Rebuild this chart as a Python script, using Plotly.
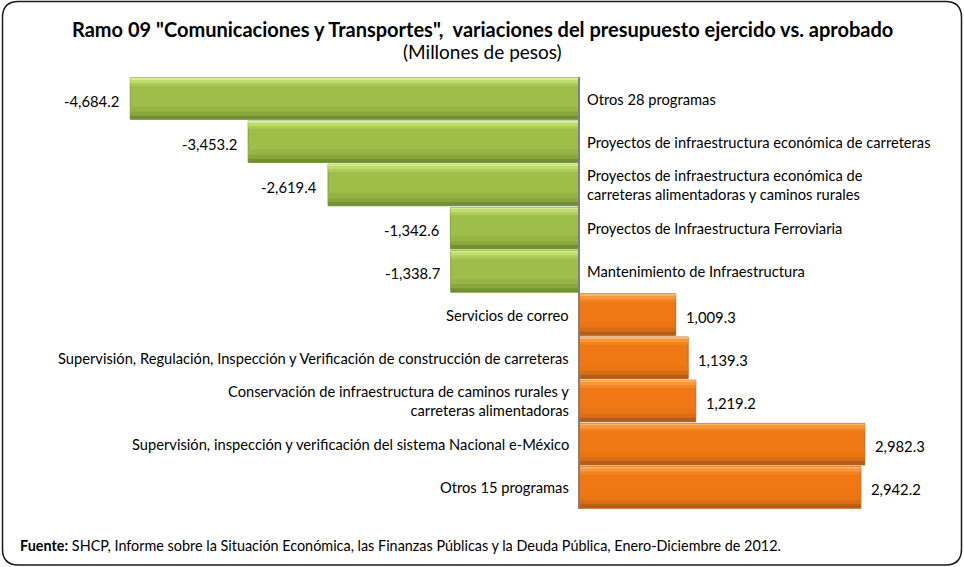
import plotly.graph_objects as go

categories = [
    "Otros 28 programas",
    "Proyectos de infraestructura económica de carreteras",
    "Proyectos de infraestructura económica de<br>carreteras alimentadoras y caminos rurales",
    "Proyectos de Infraestructura Ferroviaria",
    "Mantenimiento de Infraestructura",
    "Servicios de correo",
    "Supervisión, Regulación, Inspección y Verificación de construcción de carreteras",
    "Conservación de infraestructura de caminos rurales y<br>carreteras alimentadoras",
    "Supervisión, inspección y verificación del sistema Nacional e-México",
    "Otros 15 programas",
]
values = [-4684.2, -3453.2, -2619.4, -1342.6, -1338.7, 1009.3, 1139.3, 1219.2, 2982.3, 2942.2]
value_labels = ["-4,684.2", "-3,453.2", "-2,619.4", "-1,342.6", "-1,338.7",
                "1,009.3", "1,139.3", "1,219.2", "2,982.3", "2,942.2"]

FONT = "Lato, 'Open Sans', sans-serif"
# bevel layers: (offset, width, green, orange) from top edge of each bar down
BEVEL = [
    (-0.48, 0.05, "#d9ec95", "#fbb466"),
    (-0.43, 0.07, "#bfdc6e", "#f8983e"),
    (-0.36, 0.06, "#abcc59", "#f3841f"),
    (0.18, 0.12, "#94b544", "#e87412"),
    (0.30, 0.09, "#87a73d", "#d96c14"),
    (0.39, 0.09, "#728f36", "#b35d1a"),
]

def colors(green, orange):
    return [green if v < 0 else orange for v in values]

fig = go.Figure()
fig.add_trace(go.Bar(x=values, y=categories, orientation="h", width=0.96,
                     marker={"color": colors("#9dbf4a", "#f07814"),
                             "line": {"color": colors("#819f3b", "#c8651a"), "width": 1}},
                     hoverinfo="skip", showlegend=False))
for off, wid, g, o in BEVEL:
    fig.add_trace(go.Bar(x=values, y=categories, orientation="h", width=wid, offset=off,
                         marker={"color": colors(g, o), "line": {"width": 0}},
                         hoverinfo="skip", showlegend=False))

for cat, val, lab in zip(categories, values, value_labels):
    neg = val < 0
    # category label sits on the other side of the zero line
    fig.add_annotation(x=0, y=cat, text=cat, showarrow=False, yanchor="middle",
                       xanchor="left" if neg else "right", align="left" if neg else "right",
                       xshift=6 if neg else -8, font={"family": FONT, "size": 14.7, "color": "#000000"})
    fig.add_annotation(x=val, y=cat, text=lab, showarrow=False, yanchor="middle",
                       xanchor="right" if neg else "left", xshift=-9 if neg else 8, yshift=-2,
                       font={"family": FONT, "size": 14.8, "color": "#000000"})

fig.add_vline(x=0, line_color="#808080", line_width=2)

fig.add_annotation(x=0.5, y=1 - 29 / 567, xref="paper", yref="paper", showarrow=False,
                   xanchor="center", yanchor="middle",
                   text="<b>Ramo 09 \"Comunicaciones y Transportes\",  variaciones del presupuesto ejercido vs. aprobado</b>",
                   font={"family": FONT, "size": 20, "color": "#000000"})
fig.add_annotation(x=0.5, y=1 - 51 / 567, xref="paper", yref="paper", showarrow=False,
                   xanchor="center", yanchor="middle",
                   text="(Millones de pesos)", font={"family": FONT, "size": 19, "color": "#000000"})
fig.add_annotation(x=18 / 964, y=1 - 545 / 567, xref="paper", yref="paper", showarrow=False,
                   xanchor="left", yanchor="middle",
                   text="<b>Fuente:</b> SHCP, Informe sobre la Situación Económica, las Finanzas Públicas y la Deuda Pública, Enero-Diciembre de 2012.",
                   font={"family": FONT, "size": 14.4, "color": "#000000"})

# rounded frame
x0, x1 = 2.5 / 964, 961.5 / 964
y0, y1 = 1 - 565 / 567, 1 - 1.5 / 567
rx, ry = 16 / 964, 16 / 567
path = (f"M {x0 + rx} {y1} L {x1 - rx} {y1} Q {x1} {y1} {x1} {y1 - ry} "
        f"L {x1} {y0 + ry} Q {x1} {y0} {x1 - rx} {y0} L {x0 + rx} {y0} "
        f"Q {x0} {y0} {x0} {y0 + ry} L {x0} {y1 - ry} Q {x0} {y1} {x0 + rx} {y1} Z")
fig.add_shape(type="path", path=path, xref="paper", yref="paper",
              line={"color": "#1a1a1a", "width": 1.5})

fig.update_layout(
    width=964, height=567,
    margin={"l": 0, "r": 0, "t": 0, "b": 0},
    paper_bgcolor="#ffffff", plot_bgcolor="#ffffff",
    barmode="overlay",
    showlegend=False,
    font={"family": FONT},
)
fig.update_xaxes(range=[-6044, 4019], domain=[0, 1], showgrid=False, zeroline=False,
                 showticklabels=False, ticks="")
fig.update_yaxes(domain=[1 - 509 / 567, 1 - 77 / 567], categoryorder="array", categoryarray=categories,
                 autorange="reversed", showgrid=False, zeroline=False, showticklabels=False, ticks="")

fig.write_html("out.html", config={"displayModeBar": False},
               post_script="document.body.style.margin='0';")
